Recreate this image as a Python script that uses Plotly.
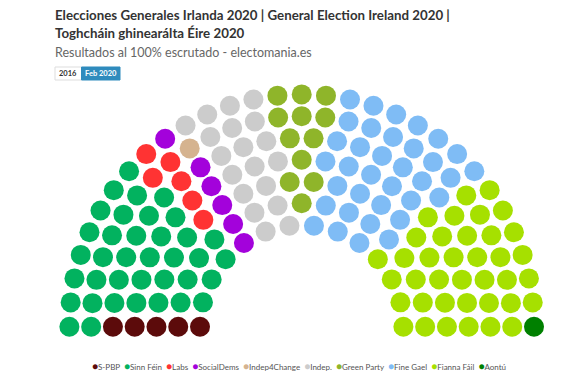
import math
import plotly.graph_objects as go

# ---- data ----
parties = ["S-PBP", "Sinn Féin", "Labs", "SocialDems", "Indep4Change", "Indep.",
           "Green Party", "Fine Gael", "Fianna Fáil", "Aontú"]
seats = [5, 37, 6, 6, 1, 19, 12, 35, 38, 1]
colors = ["#5c0b0b", "#02b25f", "#ff3333", "#a302db", "#d5b38f", "#cccccc",
          "#8fb52a", "#7fbcf5", "#a6e000", "#008000"]

# ---- hemicycle layout (Highcharts item-series style) ----
total = sum(seats)
n_rows = 7
inner_r, outer_r = 101.7, 232.3
base_item = 22.0
radii = [inner_r + i * (outer_r - inner_r) / (n_rows - 1) for i in range(n_rows)][::-1]
rows = [{"r": r, "len": math.pi * r, "cc": math.ceil(math.pi * r / base_item)} for r in radii]
overshoot = sum(rw["cc"] + 1 for rw in rows) - total
while overshoot > 0:
    ranked = sorted(rows, key=lambda rw: -(rw["cc"] / rw["len"]))
    for rw in ranked[:min(overshoot, math.ceil(len(rows) / 2))]:
        rw["cc"] -= 1
        overshoot -= 1

slots = []
for rw in rows:
    inc = math.pi / rw["cc"]
    for c in range(rw["cc"] + 1):
        a = -math.pi + c * inc
        slots.append((round(a, 9), rw["r"], rw["r"] * math.cos(a), -rw["r"] * math.sin(a)))
slots.sort(key=lambda s: (s[0], s[1]))

fig = go.Figure()
k = 0
for name, n, col in zip(parties, seats, colors):
    pts = slots[k:k + n]
    k += n
    fig.add_trace(go.Scatter(
        x=[p[2] for p in pts], y=[p[3] for p in pts], mode="markers", name=name,
        marker=dict(size=20, color=col, line=dict(width=0)),
        showlegend=False, hovertemplate=name + "<extra></extra>"))

W, H = 580, 378
cx, cy = 301.7, 326.7
FONT = "Source Sans Pro, Lato, sans-serif"

def py(y):
    return 1 - y / H

legend_txt = "&nbsp;&nbsp;".join(
    f"<span style='color:{c};font-size:10px'>●</span>{p}" for p, c in zip(parties, colors))

annotations = [
    dict(text="<b>Elecciones Generales Irlanda 2020 | General Election Ireland 2020 |</b>",
         x=52.5 / W, y=py(14.5), xanchor="left", yanchor="middle", align="left",
         font=dict(size=13.3, color="#333333", family=FONT)),
    dict(text="<b>Toghcháin ghinearálta Éire 2020</b>",
         x=52.5 / W, y=py(33.5), xanchor="left", yanchor="middle", align="left",
         font=dict(size=13.3, color="#333333", family=FONT)),
    dict(text="Resultados al 100% escrutado - electomania.es",
         x=52.5 / W, y=py(52), xanchor="left", yanchor="middle", align="left",
         font=dict(size=12.5, color="#666666", family=FONT)),
    dict(text="<b>2016</b>", x=(55 + 81.5) / 2 / W, y=py(73.5), xanchor="center", yanchor="middle",
         font=dict(size=7.5, color="#333333", family=FONT)),
    dict(text="<b>Feb 2020</b>", x=(81.5 + 120) / 2 / W, y=py(73.5), xanchor="center", yanchor="middle",
         font=dict(size=7.5, color="#ffffff", family=FONT)),
    dict(text=legend_txt, x=298.5 / W, y=py(366), xanchor="center", yanchor="middle",
         font=dict(size=8, color="#555555", family=FONT)),
]
for a in annotations:
    a.update(xref="paper", yref="paper", showarrow=False)

shapes = [
    dict(type="rect", xref="paper", yref="paper", x0=55 / W, x1=81.5 / W, y0=py(80), y1=py(67),
         fillcolor="#ffffff", line=dict(color="#dddddd", width=1)),
    dict(type="rect", xref="paper", yref="paper", x0=81.5 / W, x1=120 / W, y0=py(80), y1=py(67),
         fillcolor="#2f8bbd", line=dict(color="#2f8bbd", width=1)),
]

fig.update_layout(
    width=W, height=H, margin=dict(l=0, r=0, t=0, b=0),
    paper_bgcolor="white", plot_bgcolor="white",
    xaxis=dict(range=[-cx, W - cx], visible=False, fixedrange=True),
    yaxis=dict(range=[-(H - cy), cy], visible=False, fixedrange=True),
    annotations=annotations, shapes=shapes, showlegend=False,
)
fig.write_html("out.html", config={"displayModeBar": False},
               post_script="document.body.style.margin='0';document.body.style.overflow='hidden';")
